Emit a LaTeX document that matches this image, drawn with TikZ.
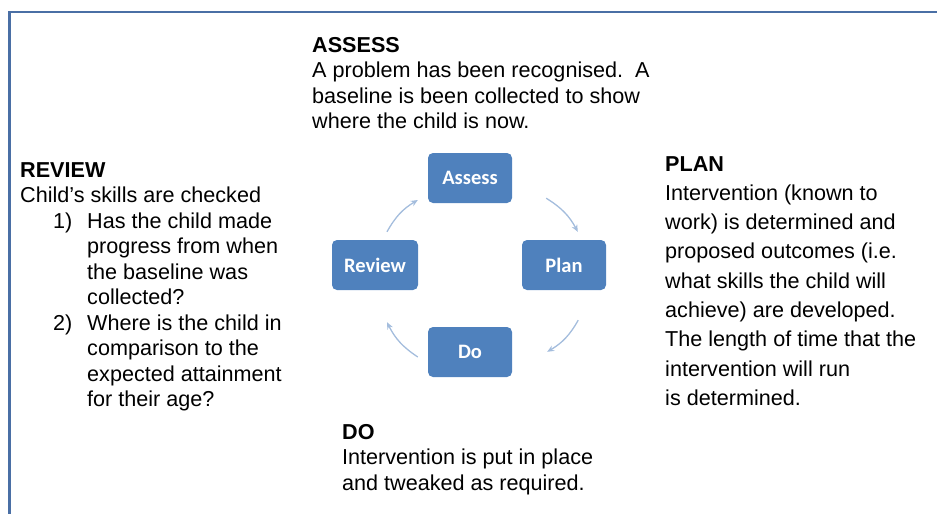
\documentclass[tikz,border=0pt]{standalone}
\usepackage{fontspec}
\setmainfont{Liberation Sans}
\newfontfamily\boxfont{Carlito}
\usetikzlibrary{arrows.meta,calc}
\definecolor{frameblue}{HTML}{4A6FA5}
\definecolor{boxblue}{HTML}{4F81BD}
\definecolor{arrowblue}{HTML}{A4BDDD}
\begin{document}
\begin{tikzpicture}[x=1pt,y=-1pt,
  stage/.style={fill=boxblue,rounded corners=5pt,minimum width=84pt,minimum height=50pt,
    inner sep=0pt,text=white,font=\boxfont\bfseries\fontsize{20.5}{22}\selectfont},
  cyc/.style={draw=arrowblue,line width=1.3pt,-{Stealth[length=7pt,width=6pt]}},
  blurb/.style={anchor=north west,inner sep=0pt,align=left,font=\fontsize{21.6}{25.5}\selectfont}]
\useasboundingbox (0,0) rectangle (937,514);
% frame
\draw[frameblue,line width=2.5pt] (9.5,514) -- (9.5,12) -- (937,12);
% cycle
\node[stage] (assess) at (470,178){Assess};
\node[stage] (plan) at (564,265){Plan};
\node[stage] (do) at (470,352){Do};
\node[stage,minimum width=86pt] (review) at (375,265){Review};
\draw[cyc] ($(assess.south east)+(34,-5)$) to[bend left=15] ($(plan.north west)+(56,-8)$);
\draw[cyc] ($(plan.south east)+(-28,30)$) to[bend left=15] ($(do.north east)+(35,25)$);
\draw[cyc] ($(do.west)+(-10,5)$) to[bend left=15] ($(review.south)+(12,32)$);
\draw[cyc] ($(review.north)+(12,-8)$) to[bend left=15] ($(assess.west)+(-10,22)$);
% texts
\node[blurb] (assesstxt) at (312,37){\textbf{ASSESS}\\A problem has been recognised.\ \ A\\baseline is been collected to show\\where the child is now.};
\node[blurb,font=\fontsize{21.6}{29.3}\selectfont] (plantxt) at (665,156){\textbf{PLAN}\\Intervention (known to\\work) is determined and\\proposed outcomes (i.e.\\what skills the child will\\achieve) are developed.\\The length of time that the\\intervention will run\\is determined.};
\node[blurb] (reviewtxt) at (20,162){\textbf{REVIEW}\\Child’s skills are checked\\
\hspace*{33pt}\makebox[34pt][l]{1)}Has the child made\\
\hspace*{67pt}progress from when\\
\hspace*{67pt}the baseline was\\
\hspace*{67pt}collected?\\
\hspace*{33pt}\makebox[34pt][l]{2)}Where is the child in\\
\hspace*{67pt}comparison to the\\
\hspace*{67pt}expected attainment\\
\hspace*{67pt}for their age?};
\node[blurb] (dotxt) at (342,424){\textbf{DO}\\Intervention is put in place\\and tweaked as required.};
\end{tikzpicture}
\end{document}
